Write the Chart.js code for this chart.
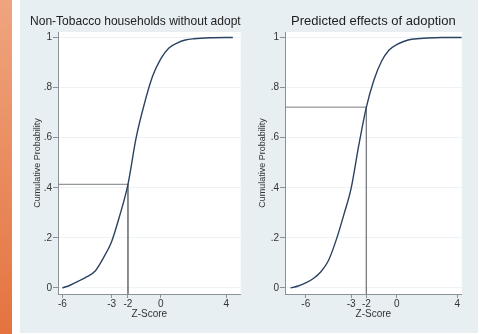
<!DOCTYPE html>
<html>
<head>
<meta charset="utf-8">
<script src="https://cdn.jsdelivr.net/npm/chart.js@4.4.1/dist/chart.umd.min.js"></script>
<style>
  body { margin: 0; background: #fff; width: 481px; height: 334px; overflow: hidden; position: relative; }
  #stripe { position: absolute; left: 0; top: 0; width: 12px; height: 334px; background: linear-gradient(#efa57f, #e4733f); }
  #panel { position: absolute; left: 20px; top: 0; width: 458px; height: 333px; background: #e8eff2; }
  canvas { position: absolute; top: 0; }
</style>
</head>
<body>
<div id="stripe"></div>
<div id="panel"></div>
<canvas id="leftChart" width="230" height="334" style="left:20px"></canvas>
<canvas id="rightChart" width="228" height="334" style="left:250px"></canvas>
<script>
// tick labels
const zTicks = [-6, -3, -2, 0, 4];
const probTicks = [0, 0.2, 0.4, 0.6, 0.8, 1];

// non-tobacco households without adoption
const leftZ = [-6, -5.5, -5, -4.5, -4, -3.5, -3, -2.5, -2, -1.5, -1, -0.5, 0, 0.5, 1, 1.5, 2, 3, 4.4];
const leftProb = [0, 0.012, 0.028, 0.045, 0.068, 0.12, 0.185, 0.29, 0.414, 0.6, 0.735, 0.845, 0.915, 0.958, 0.978, 0.99, 0.995, 0.999, 1];

// predicted effects of adoption
const rightZ = [-7, -6.5, -6, -5.5, -5, -4.5, -4, -3.5, -3, -2.5, -2, -1.5, -1, -0.5, 0, 0.5, 1, 2, 3, 4.3];
const rightProb = [0, 0.008, 0.02, 0.038, 0.065, 0.11, 0.19, 0.29, 0.4, 0.57, 0.722, 0.83, 0.905, 0.95, 0.972, 0.985, 0.993, 0.998, 1, 1];

// reference lines
const cutZ = -2;
const leftCutProb = 0.414;
const rightCutProb = 0.722;

const font = "'Liberation Sans', Arial, sans-serif";
const yMin = -0.024, yMax = 1.022;

const plotBg = {
    id: "plotBg",
    beforeDraw(chart) {
        const { ctx, chartArea: a } = chart;
        ctx.save();
        ctx.fillStyle = "#ffffff";
        ctx.fillRect(a.left, a.top, a.width, a.height);
        ctx.restore();
    }
};

function probLabel(v) {
    if (v === 0) return "0";
    if (v === 1) return "1";
    return v.toFixed(1).replace("0.", ".");
}

function makeChart(id, o) {
    const curve = o.z.map((z, i) => ({ x: z, y: o.p[i] }));
    return new Chart(document.getElementById(id), {
        type: "scatter",
        data: {
            datasets: [
                {
                    data: curve,
                    showLine: true,
                    borderColor: "#2b4361",
                    borderWidth: 1.4,
                    pointRadius: 0,
                    cubicInterpolationMode: "monotone"
                },
                {
                    data: [{ x: o.xMin, y: o.cut }, { x: cutZ, y: o.cut }],
                    showLine: true,
                    borderColor: "#7a7d80",
                    borderWidth: 1,
                    pointRadius: 0
                },
                {
                    data: [{ x: cutZ, y: o.cut }, { x: cutZ, y: yMin }],
                    showLine: true,
                    borderColor: "#7a7d80",
                    borderWidth: 1,
                    pointRadius: 0
                }
            ]
        },
        options: {
            responsive: false,
            animation: false,
            layout: { padding: { left: o.padLeft, right: o.padRight, top: 0, bottom: 0 } },
            plugins: {
                legend: { display: false },
                tooltip: { enabled: false },
                title: {
                    display: true,
                    text: o.title,
                    align: o.titleAlign,
                    fullSize: o.titleFull,
                    color: "#222",
                    font: { family: font, size: 13, weight: "normal" },
                    padding: { top: 14, bottom: 2.4 }
                }
            },
            scales: {
                x: {
                    type: "linear",
                    min: o.xMin,
                    max: o.xMax,
                    afterFit: s => { s.height = 40; },
                    afterBuildTicks: s => { s.ticks = zTicks.map(v => ({ value: v })); },
                    ticks: {
                        color: "#333",
                        font: { family: font, size: 10 },
                        padding: 0,
                        maxRotation: 0,
                        autoSkip: false,
                        callback: v => String(v)
                    },
                    grid: { drawOnChartArea: false, tickLength: 4, tickColor: "#8c9196" },
                    border: { color: "#8c9196", width: 1 },
                    title: {
                        display: true,
                        text: "Z-Score",
                        color: "#333",
                        font: { family: font, size: 10 },
                        padding: { top: 0, bottom: 13.5 }
                    }
                },
                y: {
                    type: "linear",
                    min: yMin,
                    max: yMax,
                    afterFit: s => { s.width = o.yWidth; },
                    afterBuildTicks: s => { s.ticks = probTicks.map(v => ({ value: v })); },
                    ticks: {
                        color: "#333",
                        font: { family: font, size: 10 },
                        padding: 1,
                        callback: v => probLabel(v)
                    },
                    grid: { color: "#edf3f5", tickLength: 5, tickColor: "#8c9196" },
                    border: { color: "#8c9196", width: 1 },
                    title: {
                        display: true,
                        text: "Cumulative Probability",
                        color: "#333",
                        font: { family: font, size: 9 },
                        padding: { top: o.yTitlePad, bottom: 0 }
                    }
                }
            }
        },
        plugins: [plotBg]
    });
}

makeChart("leftChart", {
    z: leftZ, p: leftProb, cut: leftCutProb,
    xMin: -6.27, xMax: 4.88,
    title: "Non-Tobacco households without adopt",
    titleAlign: "start", titleFull: true,
    padLeft: 10, padRight: 9.3, yWidth: 28, yTitlePad: 2.6
});

makeChart("rightChart", {
    z: rightZ, p: rightProb, cut: rightCutProb,
    xMin: -7.37, xMax: 4.29,
    title: "Predicted effects of adoption",
    titleAlign: "center", titleFull: false,
    padLeft: 0, padRight: 16.3, yWidth: 35, yTitlePad: 7.6
});
</script>
</body>
</html>
